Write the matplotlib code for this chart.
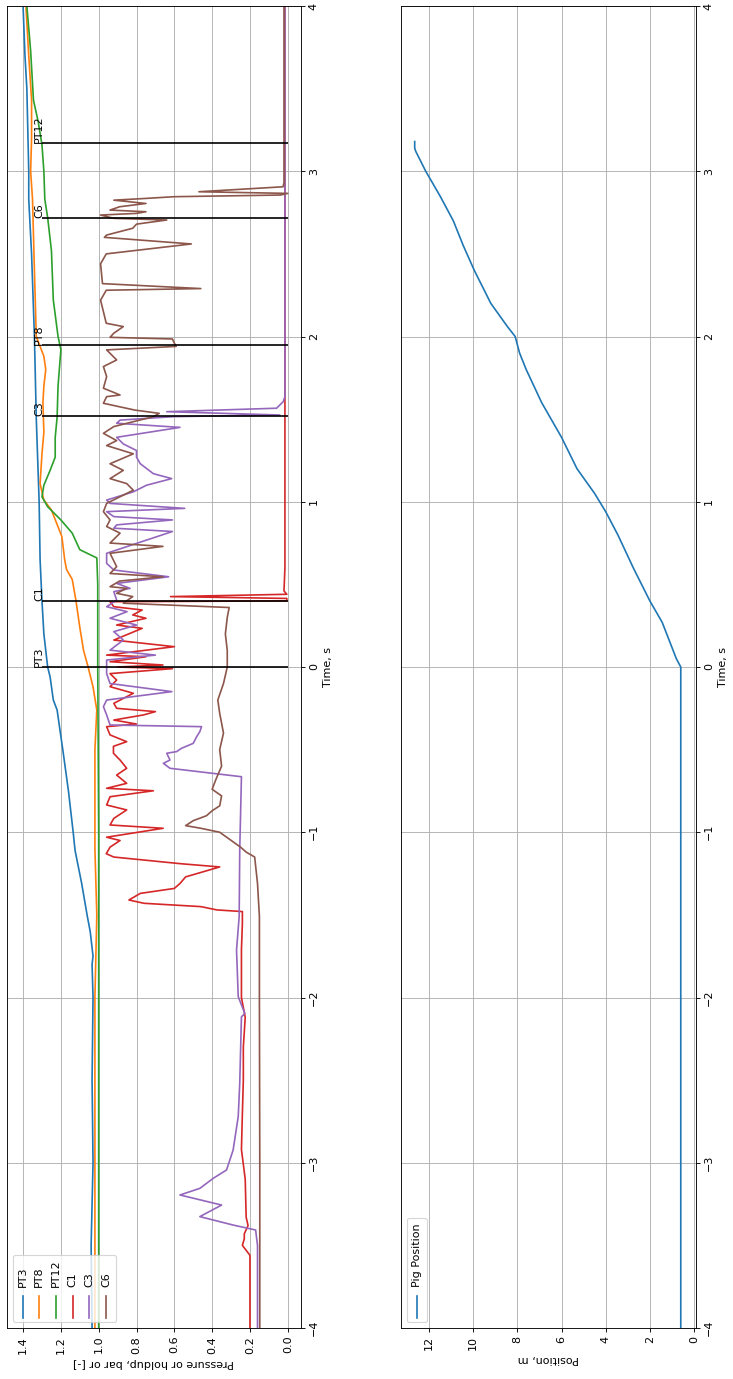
import numpy as np
import matplotlib.pyplot as plt
from matplotlib.offsetbox import AnchoredOffsetbox, DrawingArea
from matplotlib.lines import Line2D
from matplotlib.text import Text

# (time s, value) pairs
pt3 = [(-4.0, 1.035), (-3.5, 1.04), (-3.0, 1.03), (-2.5, 1.035), (-2.0, 1.03), (-1.8, 1.035),
       (-1.75, 1.03), (-1.6, 1.045), (-1.51, 1.06), (-1.31, 1.09), (-1.11, 1.125), (-1.0, 1.135),
       (-0.75, 1.16), (-0.5, 1.19), (-0.26, 1.22), (-0.2, 1.24), (-0.06, 1.257), (0.0, 1.27),
       (0.2, 1.29), (0.4, 1.30), (0.65, 1.31), (1.0, 1.315), (1.5, 1.33), (2.0, 1.34), (2.5, 1.355),
       (2.83, 1.37), (3.0, 1.37), (3.5, 1.38), (3.7, 1.39), (4.0, 1.40)]

pt8 = [(-4.0, 1.02), (-3.0, 1.02), (-2.0, 1.02), (-1.5, 1.01), (-1.1, 1.02), (-0.5, 1.02),
       (-0.26, 1.01), (-0.12, 1.03), (0.0, 1.056), (0.1, 1.08), (0.24, 1.10), (0.4, 1.12),
       (0.53, 1.14), (0.59, 1.17), (0.65, 1.18), (0.79, 1.195), (0.95, 1.25), (1.01, 1.29),
       (1.11, 1.31), (1.29, 1.30), (1.42, 1.29), (1.6, 1.295), (1.7, 1.29), (1.8, 1.28),
       (1.88, 1.29), (2.0, 1.33), (2.4, 1.34), (2.83, 1.35), (3.0, 1.36), (3.2, 1.355),
       (3.43, 1.355), (3.7, 1.37), (4.0, 1.385)]

pt12 = [(-4.0, 1.0), (-2.0, 1.0), (-1.0, 1.0), (0.0, 1.005), (0.5, 1.005), (0.66, 1.01),
        (0.71, 1.10), (0.81, 1.14), (0.89, 1.20), (0.97, 1.27), (1.03, 1.30), (1.1, 1.29),
        (1.19, 1.257), (1.27, 1.23), (1.39, 1.23), (1.51, 1.22), (1.7, 1.215), (1.92, 1.20),
        (2.0, 1.215), (2.22, 1.24), (2.52, 1.25), (2.72, 1.27), (2.83, 1.285), (3.0, 1.29),
        (3.16, 1.30), (3.3, 1.32), (3.43, 1.345), (3.73, 1.36), (4.0, 1.38)]

c1 = [(-4.0, 0.20), (-3.7, 0.20), (-3.56, 0.20), (-3.5, 0.24), (-3.46, 0.23), (-3.43, 0.23),
      (-3.38, 0.21), (-3.33, 0.22), (-3.1, 0.225), (-2.92, 0.245), (-2.7, 0.24), (-2.5, 0.235),
      (-2.3, 0.235), (-2.12, 0.225), (-2.0, 0.245), (-1.85, 0.245), (-1.71, 0.245), (-1.55, 0.24),
      (-1.48, 0.24), (-1.47, 0.375), (-1.45, 0.46), (-1.43, 0.76), (-1.41, 0.84), (-1.39, 0.81),
      (-1.37, 0.78), (-1.34, 0.60), (-1.31, 0.57), (-1.27, 0.54), (-1.21, 0.36), (-1.19, 0.57),
      (-1.15, 0.92), (-1.13, 0.96), (-1.09, 0.94), (-1.05, 0.887), (-1.03, 0.958), (-0.976, 0.659),
      (-0.956, 0.94), (-0.916, 0.92), (-0.865, 0.852), (-0.835, 0.958), (-0.785, 0.94),
      (-0.749, 0.711), (-0.734, 0.958), (-0.704, 0.852), (-0.654, 0.905), (-0.613, 0.852),
      (-0.563, 0.887), (-0.522, 0.922), (-0.48, 0.922), (-0.452, 0.852), (-0.411, 0.94),
      (-0.361, 0.958), (-0.345, 0.80), (-0.321, 0.92), (-0.29, 0.763), (-0.27, 0.70),
      (-0.25, 0.905), (-0.22, 0.92), (-0.159, 0.817), (-0.119, 0.94), (-0.079, 0.905),
      (-0.04, 0.94), (-0.01, 0.61), (0.0, 0.90), (0.012, 0.66), (0.032, 0.94), (0.062, 0.75),
      (0.072, 0.958), (0.123, 0.60), (0.163, 0.92), (0.234, 0.77), (0.254, 0.905), (0.295, 0.75),
      (0.315, 0.82), (0.345, 0.77), (0.365, 0.92), (0.395, 0.94), (0.40, 0.005), (0.415, 0.005),
      (0.426, 0.62), (0.44, 0.005), (0.46, 0.02), (0.6, 0.015), (1.0, 0.015), (2.0, 0.015),
      (3.0, 0.015), (4.0, 0.015)]

c3 = [(-4.0, 0.16), (-3.7, 0.16), (-3.5, 0.16), (-3.407, 0.17), (-3.377, 0.289), (-3.326, 0.465),
      (-3.256, 0.35), (-3.195, 0.57), (-3.155, 0.465), (-3.094, 0.394), (-3.044, 0.324),
      (-2.923, 0.289), (-2.72, 0.262), (-2.52, 0.254), (-2.117, 0.245), (-2.097, 0.227),
      (-1.995, 0.262), (-1.712, 0.271), (-1.51, 0.257), (-1.107, 0.254), (-0.664, 0.245),
      (-0.613, 0.623), (-0.583, 0.658), (-0.563, 0.623), (-0.522, 0.64), (-0.512, 0.588),
      (-0.492, 0.562), (-0.462, 0.50), (-0.422, 0.482), (-0.391, 0.465), (-0.361, 0.456),
      (-0.351, 0.94), (-0.29, 0.958), (-0.24, 0.975), (-0.2, 0.958), (-0.149, 0.613), (-0.1, 0.94),
      (-0.04, 0.958), (0.042, 0.958), (0.072, 0.70), (0.102, 0.94), (0.163, 0.87), (0.214, 0.92),
      (0.254, 0.80), (0.295, 0.94), (0.335, 0.85), (0.365, 0.958), (0.405, 0.905), (0.456, 0.92),
      (0.476, 0.834), (0.506, 0.905), (0.546, 0.63), (0.587, 0.92), (0.627, 0.958), (0.688, 0.958),
      (0.82, 0.61), (0.84, 0.92), (0.86, 0.905), (0.89, 0.61), (0.91, 0.92), (0.94, 0.958),
      (0.96, 0.545), (0.99, 0.94), (1.01, 0.958), (1.06, 0.817), (1.1, 0.747), (1.14, 0.614),
      (1.17, 0.711), (1.23, 0.78), (1.27, 0.80), (1.31, 0.80), (1.35, 0.87), (1.39, 0.905),
      (1.45, 0.57), (1.475, 0.905), (1.494, 0.887), (1.515, 0.605), (1.525, 0.042), (1.545, 0.64),
      (1.566, 0.059), (1.606, 0.024), (1.636, 0.015), (2.5, 0.015), (3.5, 0.015), (4.0, 0.015)]

c6 = [(-4.0, 0.148), (-3.0, 0.148), (-2.0, 0.15), (-1.51, 0.15), (-1.31, 0.16), (-1.15, 0.175),
      (-1.12, 0.22), (-1.09, 0.25), (-1.0, 0.36), (-0.976, 0.46), (-0.96, 0.54), (-0.93, 0.50),
      (-0.9, 0.43), (-0.87, 0.40), (-0.84, 0.36), (-0.78, 0.35), (-0.74, 0.40), (-0.68, 0.38),
      (-0.6, 0.35), (-0.5, 0.36), (-0.4, 0.34), (-0.28, 0.36), (-0.2, 0.37), (-0.1, 0.34),
      (0.0, 0.32), (0.1, 0.32), (0.2, 0.33), (0.3, 0.32), (0.36, 0.31), (0.386, 0.87),
      (0.426, 0.82), (0.446, 0.905), (0.476, 0.852), (0.486, 0.94), (0.52, 0.89), (0.546, 0.66),
      (0.566, 0.94), (0.607, 0.905), (0.688, 0.94), (0.73, 0.66), (0.75, 0.94), (0.81, 0.887),
      (0.85, 0.958), (0.89, 0.94), (0.94, 0.975), (0.99, 0.958), (1.07, 0.817), (1.11, 0.852),
      (1.14, 0.94), (1.19, 0.87), (1.23, 0.94), (1.29, 0.817), (1.34, 0.958), (1.37, 0.905),
      (1.414, 0.975), (1.455, 0.92), (1.515, 0.71), (1.535, 0.68), (1.555, 0.81), (1.596, 0.975),
      (1.636, 0.958), (1.646, 0.887), (1.687, 0.975), (1.757, 0.958), (1.818, 0.975),
      (1.858, 0.905), (1.919, 0.958), (1.94, 0.59), (1.96, 0.60), (1.985, 0.61), (1.995, 0.94),
      (2.02, 0.92), (2.06, 0.87), (2.08, 0.96), (2.22, 0.99), (2.28, 0.96), (2.29, 0.46),
      (2.32, 0.98), (2.44, 0.99), (2.5, 0.96), (2.56, 0.51), (2.6, 0.97), (2.614, 0.958),
      (2.655, 0.82), (2.68, 0.80), (2.705, 0.64), (2.715, 0.92), (2.735, 0.99), (2.745, 0.80),
      (2.755, 0.75), (2.765, 0.94), (2.785, 0.89), (2.805, 0.75), (2.825, 0.92), (2.835, 0.76),
      (2.846, 0.60), (2.856, 0.04), (2.866, 0.0), (2.876, 0.47), (2.906, 0.025), (2.93, 0.02),
      (3.5, 0.02), (4.0, 0.02)]

pig = [(-4.0, 0.6), (0.0, 0.6), (0.05, 0.8), (0.27, 1.44), (0.4, 2.0), (0.6, 2.75), (0.8, 3.45),
       (0.94, 4.0), (1.05, 4.5), (1.2, 5.3), (1.39, 6.0), (1.6, 6.9), (1.8, 7.6), (1.9, 7.9),
       (2.0, 8.1), (2.06, 8.45), (2.2, 9.2), (2.4, 9.95), (2.55, 10.45), (2.7, 10.9),
       (2.85, 11.5), (3.0, 12.15), (3.12, 12.6), (3.14, 12.65), (3.18, 12.65)]

series_names = ['PT3', 'PT8', 'PT12', 'C1', 'C3', 'C6']
series_data = [pt3, pt8, pt12, c1, c3, c6]
colors = ['tab:blue', 'tab:orange', 'tab:green', 'tab:red', 'tab:purple', 'tab:brown']

event_names = ['PT3', 'C1', 'C3', 'PT8', 'C6', 'PT12']
event_times = [0.0, 0.4, 1.52, 1.95, 2.72, 3.17]
event_top = 1.3


def side_legend(ax, labels, cols, text_len):
    # legend drawn turned a quarter turn, like the rest of the chart
    fs = 10
    step = 1.5 * fs
    w = step * len(labels) - 0.5 * fs
    h = 2.8 * fs + text_len
    da = DrawingArea(w, h, 0, 0)
    for i, (lab, c) in enumerate(zip(labels, cols)):
        xc = i * step + fs / 2
        da.add_artist(Line2D([xc, xc], [0, 2 * fs], color=c, lw=1.5))
        da.add_artist(Text(xc, 2.8 * fs, lab, rotation=90, ha='center', va='bottom', fontsize=fs))
    box = AnchoredOffsetbox(loc='lower left', child=da, pad=0.4, borderpad=0.5,
                            frameon=True, prop=dict(size=fs))
    box.patch.set_boxstyle('round,pad=0,rounding_size=0.2')
    box.patch.set_edgecolor('0.8')
    box.patch.set_alpha(0.8)
    ax.add_artist(box)


fig = plt.figure(figsize=(733 / 80, 1379 / 80), dpi=80)
ax1 = fig.add_axes([7 / 733, 51 / 1379, 294 / 733, 1322 / 1379])
ax2 = fig.add_axes([401 / 733, 51 / 1379, 295 / 733, 1322 / 1379])

for name, data, c in zip(series_names, series_data, colors):
    arr = np.array(data)
    ax1.plot(arr[:, 1], arr[:, 0], color=c, label=name)

ax1.hlines(event_times, 0, event_top, colors='k', lw=1.5)
for name, t in zip(event_names, event_times):
    ax1.text(event_top, t, name, rotation=90, rotation_mode='anchor', ha='left', va='baseline')

arr = np.array(pig)
ax2.plot(arr[:, 1], arr[:, 0], color='tab:blue')

ax1.set_xlim(1.485, -0.07)
ax1.set_xticks(np.arange(0, 1.41, 0.2))
ax1.set_xlabel('Pressure or holdup, bar or [-]', rotation=180)
ax2.set_xlim(13.27, -0.09)
ax2.set_xticks(np.arange(0, 13, 2))
ax2.set_xlabel('Position, m', rotation=180)

for ax in (ax1, ax2):
    ax.set_ylim(-4, 4)
    ax.set_yticks(range(-4, 5))
    ax.yaxis.tick_right()
    ax.yaxis.set_label_position('right')
    ax.set_ylabel('Time, s')
    ax.tick_params(axis='both', labelrotation=90)
    for lab in ax.get_yticklabels():
        lab.set_va('center')
    ax.grid(True)

side_legend(ax1, series_names, colors, 25)
side_legend(ax2, ['Pig Position'], ['tab:blue'], 58)

fig.savefig('out.png', dpi=80)
